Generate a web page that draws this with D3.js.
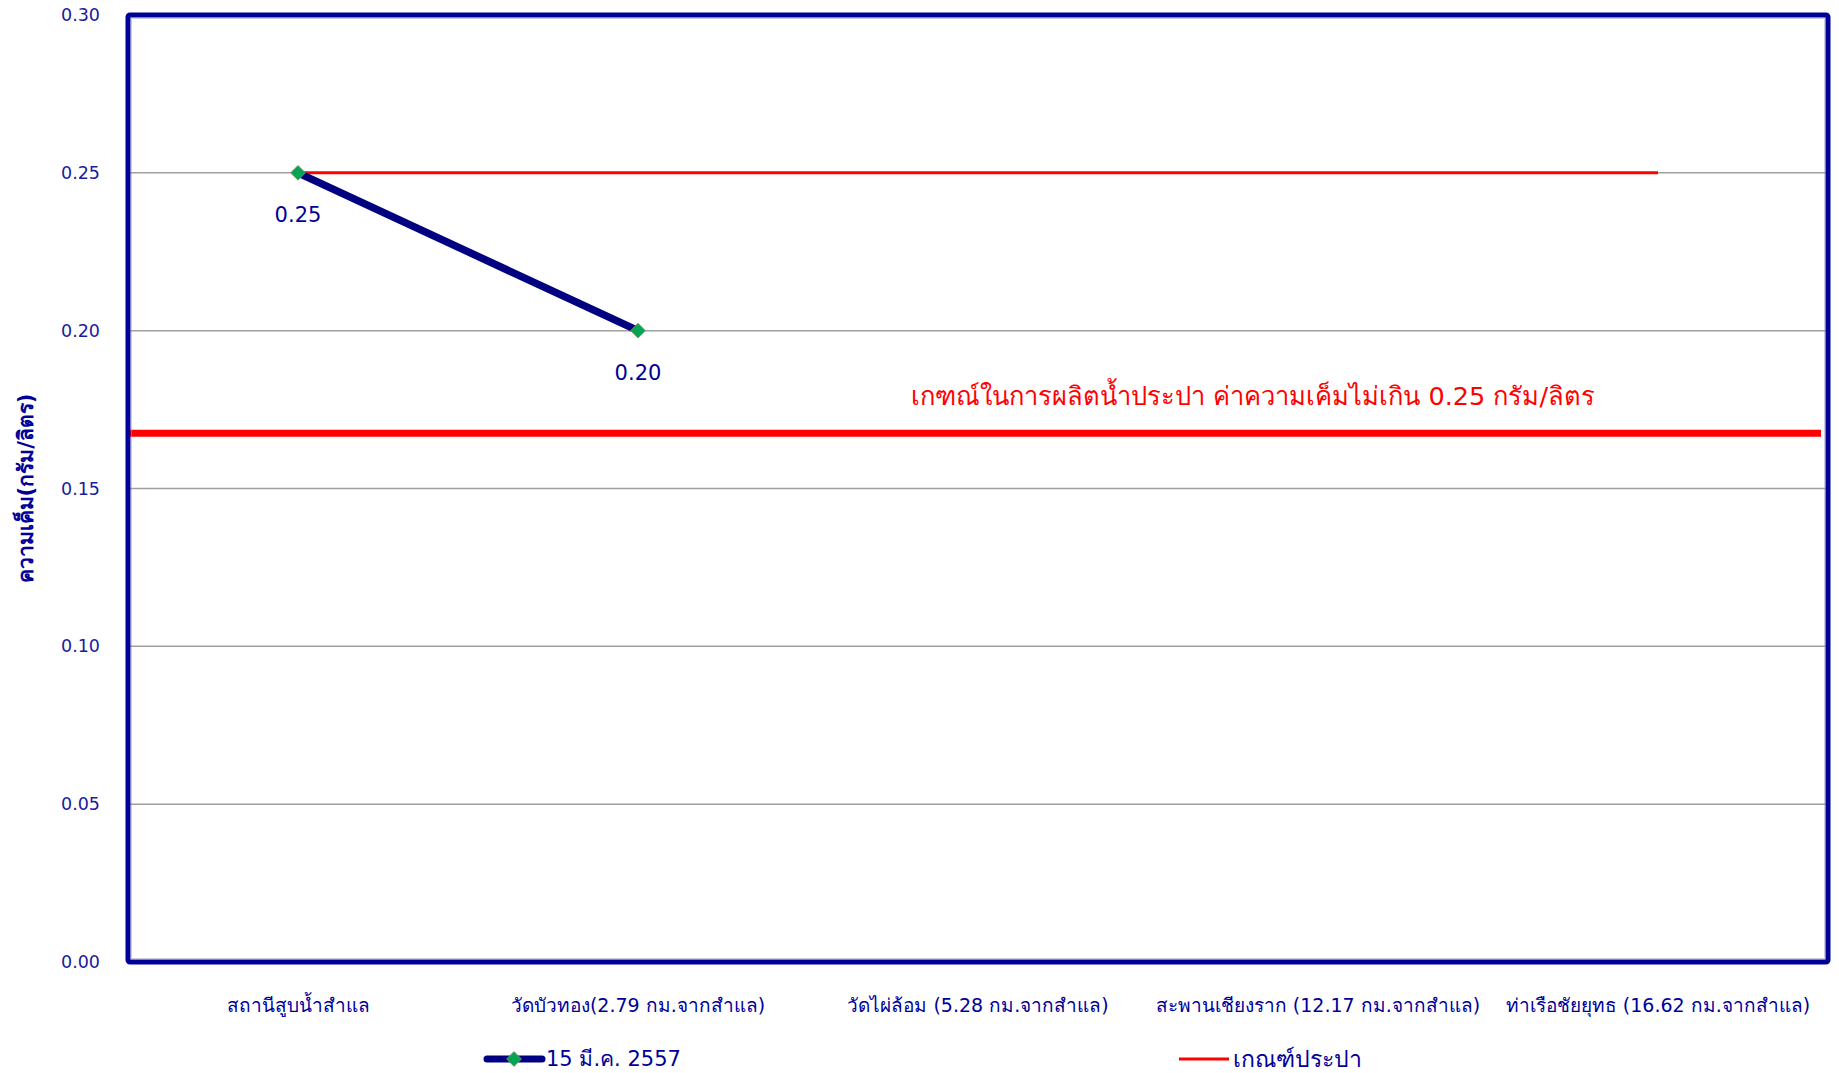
<!DOCTYPE html>
<html>
<head>
<meta charset="utf-8">
<script src="https://cdn.jsdelivr.net/npm/d3@7"></script>
<style>
  html, body { margin: 0; padding: 0; background: #fff; }
  svg { display: block; }
  text { font-family: Tahoma, "DejaVu Sans", "Noto Sans", sans-serif; }
</style>
</head>
<body>
<svg id="chart" width="1839" height="1073"></svg>
<script>
// ---- data ----
const categories = [
  "สถานีสูบน้ำสำแล",
  "วัดบัวทอง(2.79 กม.จากสำแล)",
  "วัดไผ่ล้อม (5.28 กม.จากสำแล)",
  "สะพานเชียงราก (12.17 กม.จากสำแล)",
  "ท่าเรือชัยยุทธ (16.62 กม.จากสำแล)"
];
const seriesName = "15 มี.ค. 2557";
const seriesValues = [0.25, 0.20, null, null, null];
const standardName = "เกณฑ์ประปา";
const standardValues = [0.25, 0.25, 0.25, 0.25, 0.25];
const yTicks = [0, 0.05, 0.10, 0.15, 0.20, 0.25, 0.30];
const yDomain = [0, 0.30];
const yTitle = "ความเค็ม(กรัม/ลิตร)";
const annotationText = "เกฑณ์ในการผลิตน้ำประปา ค่าความเค็มไม่เกิน 0.25 กรัม/ลิตร";
const annotationLineValue = 0.1675;

// ---- layout ----
const svg = d3.select("#chart");
const plot = { left: 128, right: 1828, top: 15, bottom: 962 };
const navy = "#000099";
const textBlue = "#1a1a9e";

const x = d3.scaleBand().domain(categories).range([plot.left, plot.right]).padding(0);
const cx = c => x(c) + x.bandwidth() / 2;
const y = d3.scaleLinear().domain(yDomain).range([plot.bottom, plot.top]);

// gridlines
svg.append("g").selectAll("line")
  .data(yTicks.filter(t => t > 0 && t < yDomain[1]))
  .join("line")
  .attr("x1", plot.left).attr("x2", plot.right)
  .attr("y1", d => y(d)).attr("y2", d => y(d))
  .attr("stroke", "#a0a0a0").attr("stroke-width", 1.5);

// y axis labels
const yAxis = d3.axisLeft(y).tickValues(yTicks).tickFormat(d3.format(".2f")).tickSize(0).tickPadding(28);
const gy = svg.append("g").attr("transform", `translate(${plot.left},0)`).call(yAxis);
gy.select(".domain").remove();
gy.selectAll("text").attr("fill", textBlue).style("font-size", "17.5px")
  .style("font-family", 'Tahoma, "DejaVu Sans", sans-serif');

// y title
svg.append("text")
  .attr("transform", `translate(27,${(plot.top + plot.bottom) / 2}) rotate(-90)`)
  .attr("text-anchor", "middle").attr("dominant-baseline", "middle")
  .attr("fill", navy).style("font-size", "21px").style("font-weight", "bold")
  .text(yTitle);

// x labels
svg.append("g").selectAll("text").data(categories).join("text")
  .attr("x", d => cx(d)).attr("y", plot.bottom + 44)
  .attr("text-anchor", "middle").attr("dominant-baseline", "middle")
  .attr("fill", navy).style("font-size", "19px")
  .text(d => d);

// standard line (thin red)
const stdPts = categories.map((c, i) => [cx(c), y(standardValues[i])]);
svg.append("path").attr("d", d3.line()(stdPts))
  .attr("fill", "none").attr("stroke", "#ff0000").attr("stroke-width", 3);

// series line
const serPts = categories.map((c, i) => ({ c, v: seriesValues[i] })).filter(d => d.v != null);
svg.append("path")
  .attr("d", d3.line().x(d => cx(d.c)).y(d => y(d.v))(serPts))
  .attr("fill", "none").attr("stroke", "#000080").attr("stroke-width", 7.5)
  .attr("stroke-linecap", "round");

// markers
const diamond = d3.symbol(d3.symbolSquare, 110);
svg.append("g").selectAll("path").data(serPts).join("path")
  .attr("d", diamond)
  .attr("transform", d => `translate(${cx(d.c)},${y(d.v)}) rotate(45)`)
  .attr("fill", "#00a651").attr("stroke", "#9c8a6a").attr("stroke-width", 0.8);

// data labels
svg.append("g").selectAll("text").data(serPts).join("text")
  .attr("x", d => cx(d.c)).attr("y", d => y(d.v) + 43)
  .attr("text-anchor", "middle").attr("dominant-baseline", "middle")
  .attr("fill", navy).style("font-size", "21px")
  .style("font-family", 'Tahoma, "DejaVu Sans", sans-serif')
  .text(d => d3.format(".2f")(d.v));

// annotation thick red line and text
svg.append("line")
  .attr("x1", plot.left).attr("x2", plot.right - 7)
  .attr("y1", y(annotationLineValue)).attr("y2", y(annotationLineValue))
  .attr("stroke", "#ff0000").attr("stroke-width", 7);
svg.append("text")
  .attr("x", cx(categories[4]) - 63).attr("y", y(annotationLineValue) - 35)
  .attr("text-anchor", "end").attr("dominant-baseline", "middle")
  .attr("fill", "#ff0000").style("font-size", "25.5px")
  .text(annotationText);

// plot border
svg.append("rect")
  .attr("x", plot.left).attr("y", plot.top)
  .attr("width", plot.right - plot.left).attr("height", plot.bottom - plot.top)
  .attr("fill", "none").attr("stroke", "#000099").attr("stroke-width", 5)
  .attr("rx", 2);
svg.append("rect")
  .attr("x", plot.left + 3.5).attr("y", plot.top + 3.5)
  .attr("width", plot.right - plot.left - 7).attr("height", plot.bottom - plot.top - 7)
  .attr("fill", "none").attr("stroke", "#9a9ab8").attr("stroke-width", 1).attr("opacity", 0.5);

// legend
const lg = svg.append("g");
const ly = 1059;
lg.append("line").attr("x1", 487).attr("x2", 542).attr("y1", ly).attr("y2", ly)
  .attr("stroke", "#000080").attr("stroke-width", 7).attr("stroke-linecap", "round");
lg.append("path").attr("d", diamond).attr("transform", `translate(514,${ly}) rotate(45)`)
  .attr("fill", "#00a651").attr("stroke", "#9c8a6a").attr("stroke-width", 0.8);
lg.append("text").attr("x", 546).attr("y", ly + 1).attr("dominant-baseline", "middle")
  .attr("fill", navy).style("font-size", "21px").text(seriesName);
lg.append("line").attr("x1", 1179).attr("x2", 1229).attr("y1", ly).attr("y2", ly)
  .attr("stroke", "#ff0000").attr("stroke-width", 3);
lg.append("text").attr("x", 1233).attr("y", ly + 1).attr("dominant-baseline", "middle")
  .attr("fill", navy).style("font-size", "23px").text(standardName);
</script>
</body>
</html>
